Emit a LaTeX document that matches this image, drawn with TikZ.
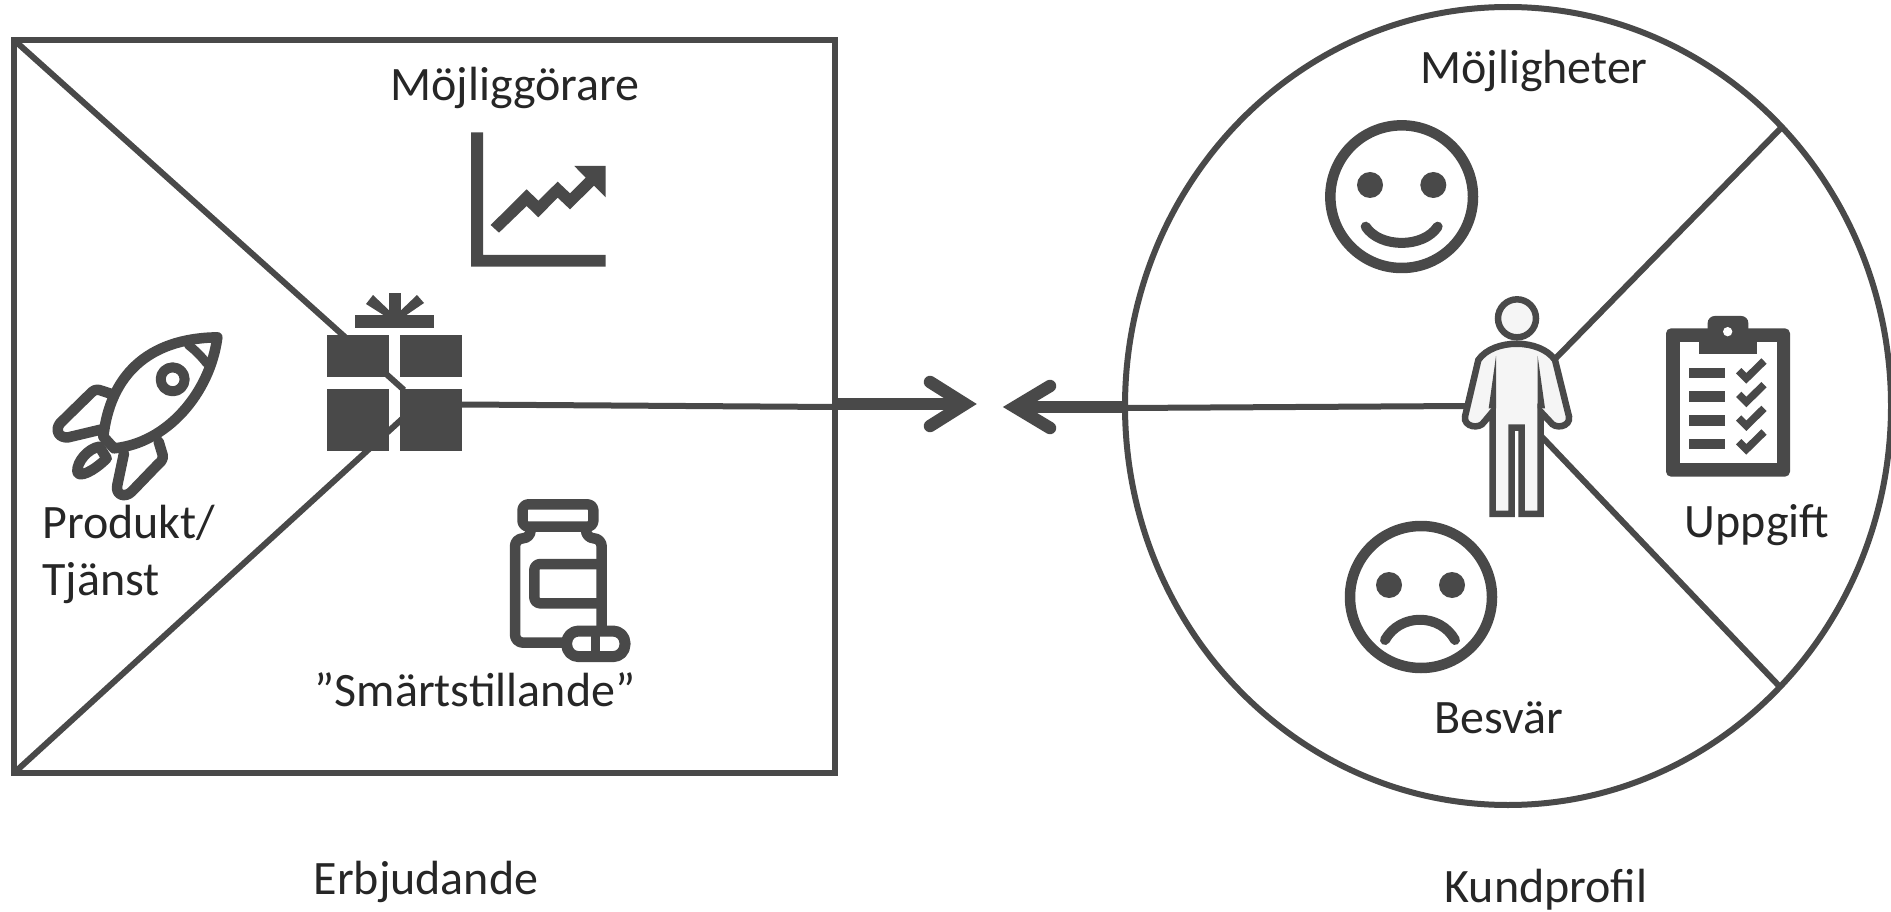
\documentclass[tikz,border=0pt]{standalone}
\usepackage{fontspec}
\setmainfont{Carlito}
\definecolor{ink}{HTML}{494949}
\definecolor{txt}{HTML}{262626}
\definecolor{pale}{HTML}{F5F5F5}
\tikzset{
  outline/.style={draw=ink,line width=6pt},
  lbl/.style={text=txt,font=\fontsize{48}{56}\selectfont,inner sep=0pt,anchor=base},
  solid ink/.style={fill=ink,draw=none},
  icon/.style={draw=ink,line width=10.5pt,line join=round,line cap=round},
  heavy/.style={draw=ink,line width=12.5pt,line cap=round,line join=miter},
  zoomA/.style={shift={(#1)},x=0.33333pt,y=-0.33333pt}
}
\begin{document}
\begin{tikzpicture}[x=1pt,y=-1pt]
\useasboundingbox (0,0) rectangle (1891,912);
\fill[white] (0,0) rectangle (1891,912);
% anchor points
\coordinate (tl) at (14,40);
\coordinate (bl) at (14,773);
\coordinate (gapU) at (404,390);
\coordinate (gapL) at (402,419);
\coordinate (giftR) at (462,404.5);
\coordinate (rectR) at (835,407);
\coordinate (arrR) at (835,404);
\coordinate (tipR) at (965,404);
\coordinate (arrL) at (1125,407);
\coordinate (tipL) at (1015,407);
\coordinate (ellL) at (1125,408);
\coordinate (personL) at (1466,406);
\coordinate (personU) at (1556,358);
\coordinate (personD) at (1542,437);
\coordinate (ellU) at (1782,127);
\coordinate (ellD) at (1781,688);
% frames
\draw[outline] (14,40) rectangle (835,773);
\draw[outline] (1508,406) ellipse [x radius=383,y radius=399];
% dividers
\draw[outline] (tl) -- (gapU);
\draw[outline] (bl) -- (gapL);
\draw[outline] (giftR) -- (rectR);
\draw[outline] (ellL) -- (personL);
\draw[outline] (personU) -- (ellU);
\draw[outline] (personD) -- (ellD);
% arrows
\draw[heavy,line cap=butt] (arrR) -- (tipR);
\draw[heavy] (930,382) -- (tipR) -- (930,426);
\draw[heavy,line cap=butt] (arrL) -- (tipL);
\draw[heavy] (1050,386) -- (tipL) -- (1050,428);
% gift
\fill[solid ink] (327,335) rectangle (389,377);
\fill[solid ink] (400,335) rectangle (462,377);
\fill[solid ink] (327,389) rectangle (389,451);
\fill[solid ink] (400,389) rectangle (462,451);
\fill[solid ink] (355,315) rectangle (434,328);
\fill[solid ink] (389,293) rectangle (401,316);
\fill[solid ink] (366,304) -- (373,295) -- (395,316) -- (385,316) -- cycle;
\fill[solid ink] (424,303) -- (417,295) -- (395,316) -- (405,316) -- cycle;
% chart
\begin{scope}[zoomA={440pt,-110pt}]
\fill[solid ink] (93,67) -- (129,67) -- (129,435) -- (497,435) -- (497,470) -- (93,470) -- cycle;
\fill[solid ink] (152,345) -- (260,238) -- (295,272) -- (353,215) -- (390,250) -- (437,203) -- (403,168) -- (497,168) -- (497,262) -- (462,227) -- (390,298) -- (353,263) -- (295,322) -- (260,288) -- (177,368) -- cycle;
\end{scope}
% rocket
\begin{scope}[zoomA={0pt,-280pt}]
\draw[icon] (652,172) .. controls (440,175) and (330,290) .. (310,470) -- (342,505) .. controls (500,490) and (630,340) .. (652,172) -- cycle;
\draw[icon,line width=9pt] (565,195) .. controls (585,210) and (605,230) .. (620,250);
\draw[icon,line width=10pt] (518,298) circle [radius=36];
\draw[icon] (335,342) -- (298,330) .. controls (285,328) and (280,332) .. (272,340) -- (180,430) .. controls (165,450) and (175,475) .. (205,472) -- (310,447);
\draw[icon] (476,485) -- (488,525) .. controls (490,535) and (485,545) .. (475,552) -- (395,635) .. controls (375,655) and (345,645) .. (352,615) -- (372,520);
\draw[icon] (298,500) .. controls (265,505) and (230,545) .. (232,575) .. controls (235,595) and (280,575) .. (320,535) -- cycle;
\end{scope}
% bottle
\begin{scope}[zoomA={490pt,-480pt}]
\draw[icon,line width=10.5pt,rounded corners=6pt] (97.5,73) rectangle (310,140);
\draw[icon,line width=10.5pt,rounded corners=8pt] (122,145) -- (122,175) -- (75,175) -- (75,488) -- (225,488);
\draw[icon,line width=10.5pt,rounded corners=8pt] (288,145) -- (288,175) -- (335,175) -- (335,440);
\draw[icon,line width=10.5pt,rounded corners=6pt] (335,252) -- (133,252) -- (133,370) -- (335,370);
\draw[icon,line width=11pt,fill=white,rounded corners=12pt] (230,453) rectangle (405,530);
\draw[icon,line width=9.5pt,line cap=butt] (317,453) -- (317,530);
\end{scope}
% faces
\begin{scope}[zoomA={1300pt,-100pt}]
\draw[icon] (305,290) circle [radius=214];
\fill[solid ink] (210,255) circle [radius=39];
\fill[solid ink] (400,255) circle [radius=39];
\draw[icon,line width=10pt] (197,380) .. controls (240,445) and (370,445) .. (413,380);
\end{scope}
\draw[icon] (1421,597) circle [radius=71];
\fill[solid ink] (1389,585) circle [radius=13];
\fill[solid ink] (1452,585) circle [radius=13];
\draw[icon,line width=10pt] (1385,640) .. controls (1400,613) and (1440,613) .. (1455,640);
% person and clipboard
\begin{scope}[zoomA={1440pt,-280pt}]
\draw[draw=ink,fill=pale,line width=6.5pt] (231,115) circle [radius=57];
\draw[draw=ink,fill=pale,line width=6.5pt,line join=miter] (158,702) -- (158,395) -- (133,425) .. controls (118,450) and (70,440) .. (75,410) -- (115,240) .. controls (160,175) and (300,175) .. (345,240) -- (387,410) .. controls (392,440) and (345,450) .. (330,425) -- (302,395) -- (302,702) -- (245,702) -- (245,443) -- (215,443) -- (215,702) -- cycle;
\fill[solid ink] (168,228) -- (146,385) -- (168,385) -- cycle;
\fill[solid ink] (293,228) -- (315,385) -- (293,385) -- cycle;
% clipboard
\fill[solid ink,rounded corners=5pt] (678,145) rectangle (1050,590);
\fill[white] (720,187) rectangle (1010,548);
\fill[solid ink] (778,187) rectangle (950,222);
\fill[solid ink,rounded corners=7pt] (803,108) -- (925,108) -- (925,190) -- (803,190) -- cycle;
\fill[white] (863,155) circle [radius=14];
\foreach \yy in {0,71,142,213}{
  \fill[solid ink] (748,263+\yy) rectangle (856,295+\yy);
  \draw[draw=ink,line width=7.5pt,line cap=butt,line join=miter] (896,272+\yy) -- (919,295+\yy) -- (972,243+\yy);
}
\end{scope}
% labels
\node[lbl] (mojliggorare) at (515,101) {Möjliggörare};
\node[lbl,anchor=base west] (produkt) at (42,538) {Produkt/};
\node[lbl,anchor=base west] (tjanst) at (42,595) {Tjänst};
\node[lbl] (smart) at (475,706) {”Smärtstillande”};
\node[lbl] (erbjudande) at (426,894) {Erbjudande};
\node[lbl] (mojligheter) at (1534,84) {Möjligheter};
\node[lbl] (uppgift) at (1757,537) {Uppgift};
\node[lbl] (besvar) at (1499,733) {Besvär};
\node[lbl] (kundprofil) at (1546,902) {Kundprofil};
\end{tikzpicture}
\end{document}
